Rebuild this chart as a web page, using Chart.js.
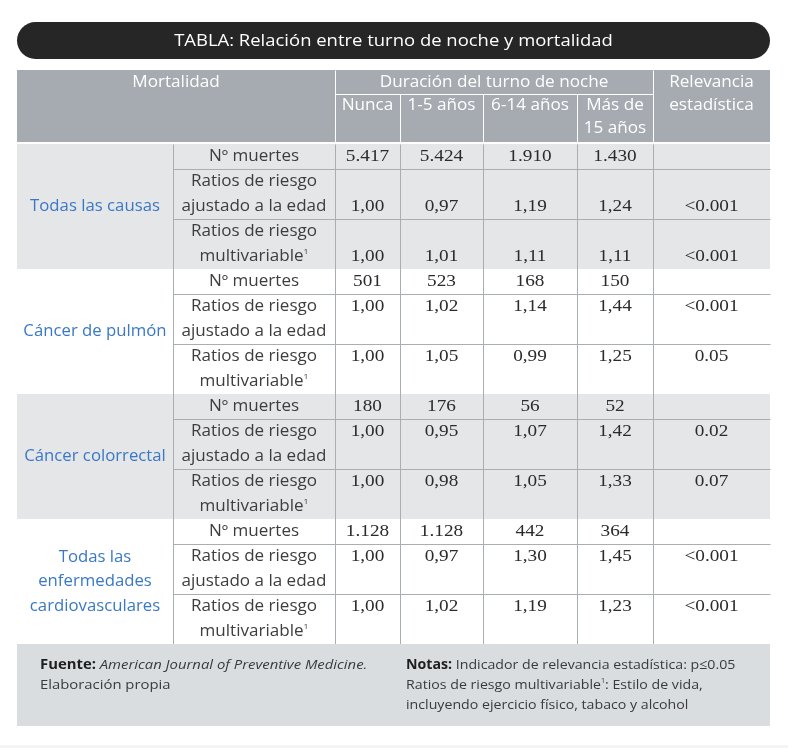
<!DOCTYPE html>
<html><head><meta charset="utf-8">
<script src="https://cdn.jsdelivr.net/npm/chart.js@4.4.1/dist/chart.umd.min.js"></script>
<style>html,body{margin:0;padding:0;background:#fff;}canvas{display:block;}</style>
</head><body>
<canvas id="c" width="788" height="748"></canvas>
<script>
// ---------- DATA ----------
const tableTitle = 'TABLA: Relación entre turno de noche y mortalidad';
const headerMortality = 'Mortalidad';
const headerDuration = 'Duración del turno de noche';
const durationCategories = ['Nunca', '1-5 años', '6-14 años', 'Más de\n15 años'];
const headerRelevance = 'Relevancia\nestadística';
const causes = ['Todas las causas', 'Cáncer de pulmón', 'Cáncer colorrectal', 'Todas las\nenfermedades\ncardiovasculares'];
const measures = ['Nº muertes', 'Ratios de riesgo\najustado a la edad', 'Ratios de riesgo\nmultivariable¹'];

const deathsAllCauses = [5417, 5424, 1910, 1430];
const deathsLung = [501, 523, 168, 150];
const deathsColorectal = [180, 176, 56, 52];
const deathsCardio = [1128, 1128, 442, 364];

const ageAdjAllCauses = [1.00, 0.97, 1.19, 1.24];
const ageAdjLung = [1.00, 1.02, 1.14, 1.44];
const ageAdjColorectal = [1.00, 0.95, 1.07, 1.42];
const ageAdjCardio = [1.00, 0.97, 1.30, 1.45];

const multiAllCauses = [1.00, 1.01, 1.11, 1.11];
const multiLung = [1.00, 1.05, 0.99, 1.25];
const multiColorectal = [1.00, 0.98, 1.05, 1.33];
const multiCardio = [1.00, 1.02, 1.19, 1.23];

const relevanceAgeAdj = ['<0.001', '<0.001', '0.02', '<0.001'];
const relevanceMulti = ['<0.001', '0.05', '0.07', '<0.001'];

const sourceLabel = 'Fuente:';
const sourceText = 'American Journal of Preventive Medicine.';
const sourceLine2 = 'Elaboración propia';
const notesLabel = 'Notas:';
const notesText = 'Indicador de relevancia estadística: p≤0.05';
const notesLine2 = 'Ratios de riesgo multivariable¹: Estilo de vida,';
const notesLine3 = 'incluyendo ejercicio físico, tabaco y alcohol';

// ---------- LAYOUT / STYLE (not data) ----------
const L = {
  colEdges: [17, 173, 335, 400, 483, 577, 653, 770],
  titleTop: 22, titleBottom: 59,
  headTop: 70, headMid: 94, headBottom: 142,
  bodyTop: 144, groupH: 125, rowH: [25, 50, 50],
  footTop: 644, footBottom: 726,
  lineH: 24.5,
  valueOnLastLine: [true, false, false, false],
  groupBg: ['#e5e6e8', '#ffffff', '#e5e6e8', '#ffffff']
};
const SANS = '"Open Sans", "Noto Sans", sans-serif';
const SERIF = '"Liberation Serif", "DejaVu Serif", serif';

const deathsByCause = [deathsAllCauses, deathsLung, deathsColorectal, deathsCardio];
const ageAdjByCause = [ageAdjAllCauses, ageAdjLung, ageAdjColorectal, ageAdjCardio];
const multiByCause = [multiAllCauses, multiLung, multiColorectal, multiCardio];

const fmtInt = v => String(v).replace(/\B(?=(\d{3})+(?!\d))/g, '.');
const fmtRatio = v => v.toFixed(2).replace('.', ',');

const tablePlugin = {
  id: 'tablePlugin',
  afterDraw(chart) {
    const ctx = chart.ctx;
    const sx = chart.scales.x, sy = chart.scales.y;
    const X = v => sx.getPixelForValue(v);
    const Y = v => sy.getPixelForValue(v);
    const rect = (x0, y0, x1, y1, c) => { ctx.fillStyle = c; ctx.fillRect(X(x0), Y(y0), X(x1) - X(x0), Y(y1) - Y(y0)); };
    const line = (x0, y0, x1, y1, c) => {
      ctx.strokeStyle = c; ctx.lineWidth = 1; ctx.beginPath();
      ctx.moveTo(Math.round(X(x0)) + 0.5, Math.round(Y(y0)) + 0.5);
      ctx.lineTo(Math.round(X(x1)) + 0.5, Math.round(Y(y1)) + 0.5); ctx.stroke();
    };
    // split text into runs: normal and superscript "¹"
    const runs = (s, font) => {
      const out = [];
      s.split(/(¹)/).forEach(p => {
        if (!p) return;
        if (p === '¹') {
          const size = parseFloat(font.match(/([\d.]+)px/)[1]);
          out.push({ t: '1', font: font.replace(/[\d.]+px/, (size * 0.5).toFixed(1) + 'px'), dy: -size * 0.3 });
        } else out.push({ t: p, font, dy: 0 });
      });
      return out;
    };
    const drawRuns = (rs, startX, y, color, stretch) => {
      let cx = startX;
      rs.forEach(r => {
        ctx.save();
        ctx.font = r.font; ctx.fillStyle = r.color || color; ctx.textAlign = 'left'; ctx.textBaseline = 'middle';
        const w = ctx.measureText(r.t).width;
        ctx.translate(cx, y + r.dy); ctx.scale(stretch, 1);
        ctx.fillText(r.t, 0, 0);
        ctx.restore();
        cx += w * stretch;
      });
    };
    const widthRuns = (rs, stretch) => rs.reduce((a, r) => { ctx.font = r.font; return a + ctx.measureText(r.t).width * stretch; }, 0);
    const text = (s, x, y, font, color, stretch) => {
      stretch = stretch || 1;
      const rs = runs(s, font);
      const w = widthRuns(rs, stretch);
      drawRuns(rs, X(x) - w / 2, Y(y), color, stretch);
    };
    const multi = (s, x, yc, font, color, lh, stretch) => {
      const parts = s.split('\n');
      const y0 = yc - (parts.length - 1) * lh / 2;
      parts.forEach((p, i) => text(p, x, y0 + i * lh, font, color, stretch));
    };
    const rich = (pieces, x, y, stretch) => {
      let rs = [];
      pieces.forEach(p => runs(p.t, p.font).forEach(r => { r.color = p.color; rs.push(r); }));
      drawRuns(rs, X(x), Y(y), '#000', stretch);
    };
    const E = L.colEdges;
    const mid = (a, b) => (a + b) / 2;

    // title pill
    const r = (L.titleBottom - L.titleTop) / 2;
    ctx.fillStyle = '#262626';
    ctx.beginPath();
    ctx.roundRect(X(E[0]), Y(L.titleTop), X(E[7]) - X(E[0]), Y(L.titleBottom) - Y(L.titleTop), r);
    ctx.fill();
    text(tableTitle, mid(E[0], E[7]), mid(L.titleTop, L.titleBottom) + 0.5, '400 16.8px ' + SANS, '#ffffff', 1.1);

    // header
    rect(E[0], L.headTop, E[7], L.headBottom, '#a5abb1');
    const hf = '400 16px ' + SANS, hc = '#ffffff', hs = 1.07;
    line(E[2], L.headTop, E[2], L.headBottom, '#ffffff');
    line(E[6], L.headTop, E[6], L.headBottom, '#ffffff');
    line(E[2], L.headMid, E[6], L.headMid, '#ffffff');
    for (let i = 3; i < 6; i++) line(E[i], L.headMid, E[i], L.headBottom, '#ffffff');
    text(headerMortality, mid(E[0], E[2]), 82, hf, hc, hs);
    text(headerDuration, mid(E[2], E[6]), 82, hf, hc, hs);
    multi(headerRelevance, mid(E[6], E[7]), 93.5, hf, hc, 23, hs);
    durationCategories.forEach((c, i) => {
      const parts = c.split('\n');
      parts.forEach((p, k) => text(p, mid(E[2 + i], E[3 + i]), 105 + k * 23, hf, hc, hs));
    });

    // body
    const bodyBottom = L.bodyTop + L.groupH * causes.length;
    causes.forEach((cause, g) => {
      const gTop = L.bodyTop + g * L.groupH;
      rect(E[0], gTop, E[7], gTop + L.groupH, L.groupBg[g]);
      multi(cause, mid(E[0], E[1]), gTop + L.groupH / 2 + 0.5, '400 15.5px ' + SANS, '#3a78c6', L.lineH, 1.08);
      let rTop = gTop;
      measures.forEach((m, k) => {
        const rh = L.rowH[k];
        if (k > 0) line(E[1], rTop, E[7], rTop, '#a9aeb3');
        const nLines = m.split('\n').length;
        const lineTop = rTop + (rh - nLines * L.lineH) / 2;
        m.split('\n').forEach((p, j) => text(p, mid(E[1], E[2]), lineTop + L.lineH * (j + 0.5), '400 15.5px ' + SANS, '#3d3d3d', 1.1));
        const vy = (nLines === 1) ? lineTop + L.lineH / 2
          : (L.valueOnLastLine[g] ? lineTop + L.lineH * (nLines - 0.5) : lineTop + L.lineH / 2);
        const vf = '400 17.5px ' + SERIF, vc = '#2b2b2b', vs = 1.1;
        for (let c = 0; c < 4; c++) {
          const v = k === 0 ? fmtInt(deathsByCause[g][c]) : fmtRatio((k === 1 ? ageAdjByCause : multiByCause)[g][c]);
          text(v, mid(E[2 + c], E[3 + c]), vy, vf, vc, vs);
        }
        if (k > 0) text((k === 1 ? relevanceAgeAdj : relevanceMulti)[g], mid(E[6], E[7]), vy, vf, vc, vs);
        rTop += rh;
      });
    });
    for (let i = 1; i <= 6; i++) line(E[i], L.bodyTop, E[i], bodyBottom, '#a9aeb3');

    // footer
    rect(E[0], L.footTop, E[7], L.footBottom, '#dadde0');
    const ff = '400 13.5px ' + SANS, fc = '#3a3a3a';
    const bf = '700 13.5px ' + SANS, bc = '#1e1e1e';
    rich([{ t: sourceLabel + ' ', font: bf, color: bc },
          { t: sourceText, font: 'italic 400 13.5px ' + SANS, color: fc }], 40, 665, 1.1);
    rich([{ t: sourceLine2, font: ff, color: fc }], 40, 685, 1.1);
    rich([{ t: notesLabel + ' ', font: bf, color: bc },
          { t: notesText, font: ff, color: fc }], 406, 665, 1.05);
    rich([{ t: notesLine2, font: ff, color: fc }], 406, 685, 1.05);
    rich([{ t: notesLine3, font: ff, color: fc }], 406, 705, 1.05);

    // faint bottom strip
    rect(0, 745, 788, 748, '#f4f4f5');
  }
};

new Chart(document.getElementById('c'), {
  type: 'scatter',
  data: { datasets: [{ data: [], pointRadius: 0 }] },
  options: {
    responsive: false, animation: false, devicePixelRatio: 1,
    layout: { padding: 0 },
    plugins: { legend: { display: false }, tooltip: { enabled: false } },
    scales: {
      x: { type: 'linear', min: 0, max: 788, display: false },
      y: { type: 'linear', min: 0, max: 748, reverse: true, display: false }
    }
  },
  plugins: [tablePlugin]
});
</script>
</body></html>
